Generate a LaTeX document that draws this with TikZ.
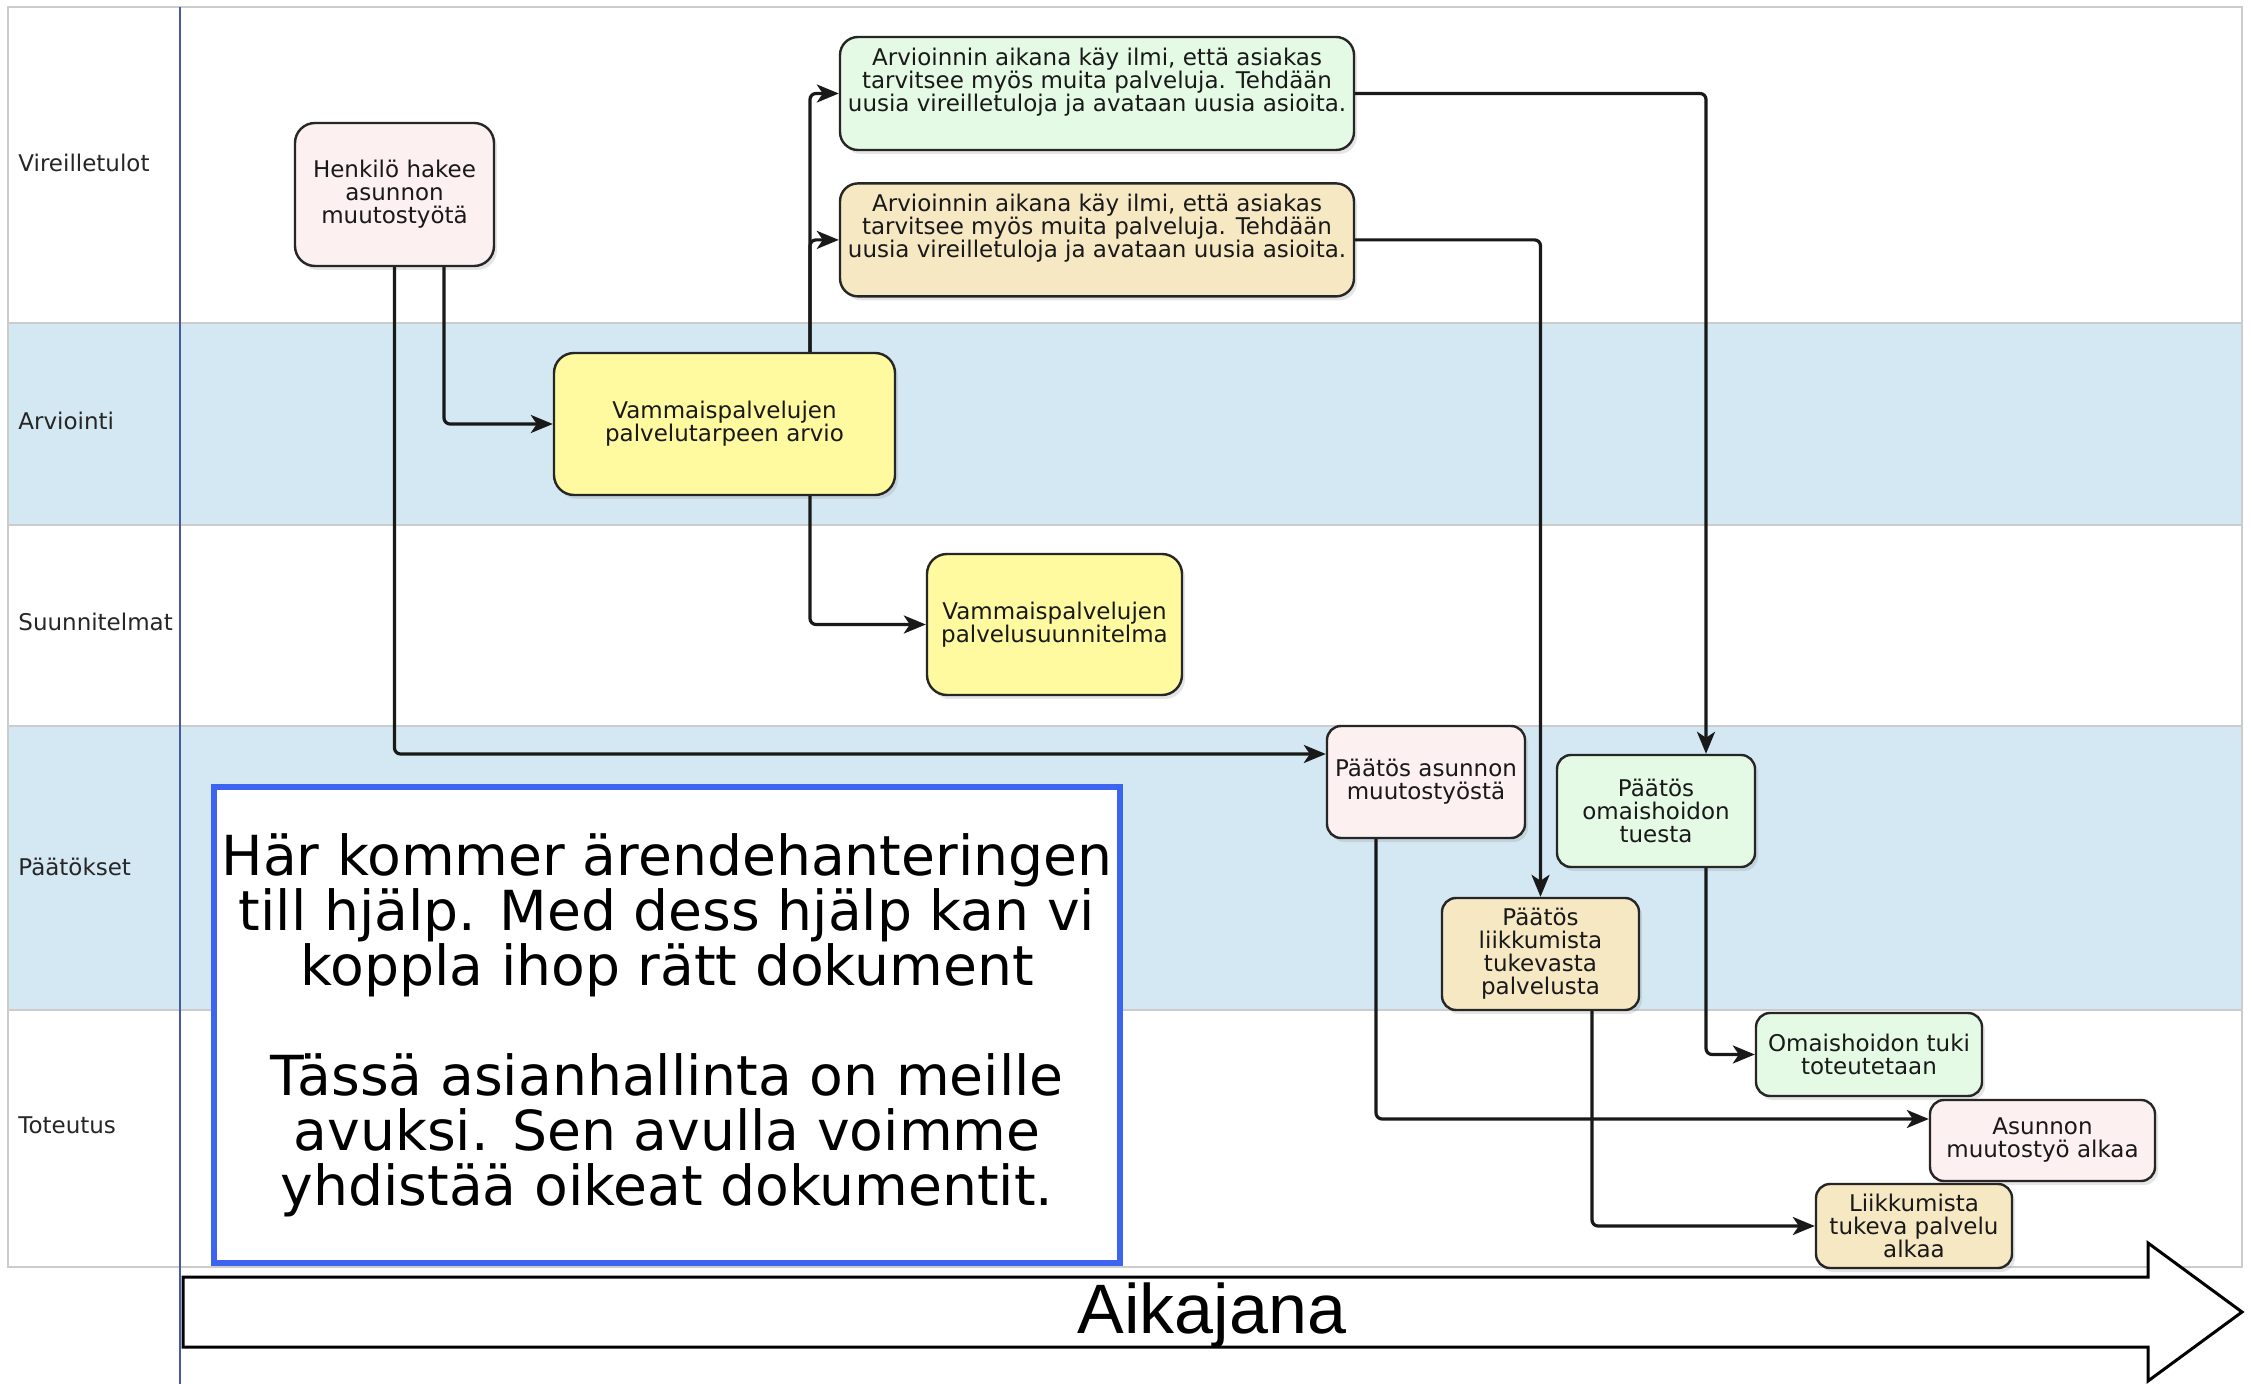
\documentclass[tikz,border=0pt]{standalone}
\usepackage{fontspec}
\setmainfont{DejaVu Sans}
\newfontfamily\arialfont{Liberation Sans}
\usetikzlibrary{positioning,calc,arrows.meta,shadows}

\definecolor{laneblue}{RGB}{212,232,243}
\definecolor{lanegray}{RGB}{204,204,204}
\definecolor{axisblue}{RGB}{70,90,160}
\definecolor{pinkfill}{RGB}{252,240,240}
\definecolor{yellowfill}{RGB}{255,250,160}
\definecolor{greenfill}{RGB}{228,250,228}
\definecolor{wheatfill}{RGB}{247,232,196}
\definecolor{infoblue}{RGB}{60,100,240}

\begin{document}
\begin{tikzpicture}[x=0.5pt,y=-0.5pt]
 	\tikzstyle{proc}=[rectangle, rounded corners=7pt, draw=black!85, line width=1.2pt, align=center, text=black!90, inner sep=2pt, font=\fontsize{11.5}{11.5}\selectfont, drop shadow={shadow xshift=1.5pt, shadow yshift=-2pt, opacity=0.2}]
 	\tikzstyle{connect}=[-{Stealth[length=11pt, width=9pt, inset=3pt]}, line width=1.6pt, rounded corners=3pt, black!90]
 	\tikzstyle{lanelbl}=[anchor=west, inner sep=0pt, text=black!85, font=\fontsize{11.5}{11.5}\selectfont]
 	\tikzstyle{infobox}=[rectangle, draw=infoblue, line width=3pt, fill=white, align=center, font=\fontsize{27.6}{27.5}\selectfont]
 	\useasboundingbox (0,0) rectangle (2254,1384);
 	\fill[white] (0,0) rectangle (2254,1384);
 	% swimlanes
 	\fill[laneblue] (8,323) rectangle (2242,525);
 	\fill[laneblue] (8,726) rectangle (2242,1010);
 	\draw[lanegray, line width=1pt] (8,7) rectangle (2242,1267);
 	\draw[lanegray, line width=1pt] (8,323) -- (2242,323) (8,525) -- (2242,525) (8,726) -- (2242,726) (8,1010) -- (2242,1010);
 	\draw[axisblue, line width=0.8pt] (180,7) -- (180,1384);
 	\node[lanelbl] (l1) at (18,163) {Vireilletulot};
 	\node[lanelbl] (l2) at (18,421) {Arviointi};
 	\node[lanelbl] (l3) at (18,622) {Suunnitelmat};
 	\node[lanelbl] (l4) at (18,867) {Päätökset};
 	\node[lanelbl] (l5) at (18,1125) {Toteutus};
 	% time axis
 	\draw[line width=1.5pt, fill=white] (183,1277) -- (2148,1277) -- (2148,1243) -- (2242,1312) -- (2148,1381) -- (2148,1347) -- (183,1347) -- cycle;
 	\node[font=\arialfont\fontsize{35}{40}\selectfont] (axis) at (1212,1315) {Aikajana};
 	% info box
 	\node[infobox, minimum width=453pt, minimum height=238pt] (info) at (667,1025) {Här kommer ärendehanteringen\\till hjälp. Med dess hjälp kan vi\\koppla ihop rätt dokument\\[27.5pt]Tässä asianhallinta on meille\\avuksi. Sen avulla voimme\\yhdistää oikeat dokumentit.};
 	% process boxes
 	\node[proc, fill=pinkfill, rounded corners=10pt, minimum width=99.5pt, minimum height=71.5pt] (henk) at (394.5,194.5) {Henkilö hakee\\asunnon\\muutostyötä};
 	\node[proc, fill=yellowfill, rounded corners=10pt, minimum width=170.5pt, minimum height=71pt] (arvio) at (724.5,424) {Vammaispalvelujen\\palvelutarpeen arvio};
 	\node[proc, fill=greenfill, rounded corners=9pt, minimum width=257pt, minimum height=56.5pt, text depth=14pt] (green1) at (1097,93.5) {Arvioinnin aikana käy ilmi, että asiakas\\tarvitsee myös muita palveluja. Tehdään\\uusia vireilletuloja ja avataan uusia asioita.};
 	\node[proc, fill=wheatfill, rounded corners=9pt, minimum width=257pt, minimum height=56.5pt, text depth=14pt, below=15.5pt of green1] (orange1) {Arvioinnin aikana käy ilmi, että asiakas\\tarvitsee myös muita palveluja. Tehdään\\uusia vireilletuloja ja avataan uusia asioita.};
 	\node[proc, fill=yellowfill, rounded corners=10pt, minimum width=127.5pt, minimum height=70.5pt] (suunn) at (1054.5,624.5) {Vammaispalvelujen\\palvelusuunnitelma};
 	\node[proc, fill=pinkfill, minimum width=99pt, minimum height=56pt] (pasunnon) at (1426,782) {Päätös asunnon\\muutostyöstä};
 	\node[proc, fill=greenfill, minimum width=99pt, minimum height=56pt] (pomais) at (1656,811) {Päätös\\omaishoidon\\tuesta};
 	\node[proc, fill=wheatfill, minimum width=98.5pt, minimum height=56pt] (pliik) at (1540.5,954) {Päätös\\liikkumista\\tukevasta\\palvelusta};
 	\node[proc, fill=greenfill, minimum width=113pt, minimum height=41.5pt] (omtuki) at (1869,1054.5) {Omaishoidon tuki\\toteutetaan};
 	\node[proc, fill=pinkfill, minimum width=112.5pt, minimum height=40.5pt] (asalkaa) at (2042.5,1140.5) {Asunnon\\muutostyö alkaa};
 	\node[proc, fill=wheatfill, minimum width=98pt, minimum height=42pt] (liialkaa) at (1914,1226) {Liikkumista\\tukeva palvelu\\alkaa};
 	% connectors
 	\draw[connect] ($(henk.south)+(49.5,0)$) |- (arvio.west);
 	\draw[connect] (henk.south) |- ($(pasunnon.west)+(0,-28)$);
 	\draw[connect] ($(arvio.north)+(85.5,0)$) |- (green1.west);
 	\draw[connect] ($(arvio.north)+(85.5,0)$) |- (orange1.west);
 	\draw[connect] ($(arvio.south)+(85.5,0)$) |- (suunn.west);
 	\draw[connect] (green1.east) -| ($(pomais.north)+(50,0)$);
 	\draw[connect] (orange1.east) -| (pliik.north);
 	\draw[connect] ($(pasunnon.south)+(-50,0)$) |- ($(asalkaa.west)+(0,-21.5)$);
 	\draw[connect] ($(pomais.south)+(50,0)$) |- (omtuki.west);
 	\draw[connect] ($(pliik.south)+(51.5,0)$) |- (liialkaa.west);
\end{tikzpicture}
\end{document}
